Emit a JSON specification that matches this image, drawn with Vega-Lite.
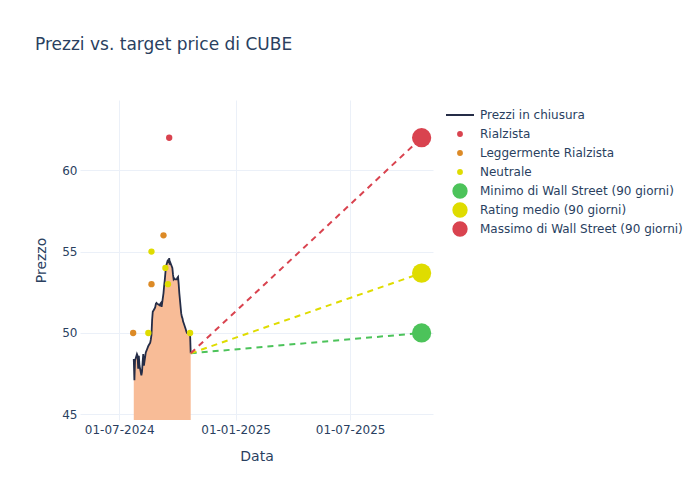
{
  "$schema": "https://vega.github.io/schema/vega-lite/v6.json",
  "width": 353,
  "height": 320,
  "autosize": {"type": "none"},
  "padding": {"left": 80, "top": 100, "right": 267, "bottom": 80},
  "background": "white",
  "config": {
    "font": "DejaVu Sans",
    "view": {"stroke": null},
    "axis": {
      "domain": false,
      "ticks": false,
      "gridColor": "#ebf0f8",
      "gridWidth": 1,
      "labelColor": "#2a3f5f",
      "labelFontSize": 12,
      "labelFont": "DejaVu Sans",
      "titleColor": "#2a3f5f",
      "titleFontSize": 14,
      "titleFont": "DejaVu Sans",
      "titleFontWeight": "normal"
    },
    "legend": {
      "labelFont": "DejaVu Sans",
      "labelFontSize": 12,
      "labelColor": "#2a3f5f",
      "symbolOpacity": 1,
      "labelLimit": 0
    }
  },
  "title": {
    "text": "Prezzi vs. target price di CUBE",
    "anchor": "start",
    "frame": "group",
    "dx": -45,
    "offset": 46,
    "fontSize": 17,
    "font": "DejaVu Sans",
    "fontWeight": "normal",
    "color": "#2a3f5f"
  },
  "datasets": {
    "prezzi": [
      {"data": "2024-07-24", "prezzo": 48.4},
      {"data": "2024-07-25", "prezzo": 47.1},
      {"data": "2024-07-26", "prezzo": 48.3},
      {"data": "2024-07-29", "prezzo": 48.7},
      {"data": "2024-07-30", "prezzo": 48.6},
      {"data": "2024-07-31", "prezzo": 47.8},
      {"data": "2024-08-01", "prezzo": 48.6},
      {"data": "2024-08-02", "prezzo": 48.0},
      {"data": "2024-08-05", "prezzo": 47.4},
      {"data": "2024-08-06", "prezzo": 47.6},
      {"data": "2024-08-07", "prezzo": 48.2},
      {"data": "2024-08-08", "prezzo": 48.7},
      {"data": "2024-08-09", "prezzo": 48.0},
      {"data": "2024-08-12", "prezzo": 48.8},
      {"data": "2024-08-13", "prezzo": 48.9},
      {"data": "2024-08-14", "prezzo": 49.0},
      {"data": "2024-08-15", "prezzo": 49.1},
      {"data": "2024-08-16", "prezzo": 49.2},
      {"data": "2024-08-19", "prezzo": 49.4},
      {"data": "2024-08-20", "prezzo": 49.6},
      {"data": "2024-08-21", "prezzo": 49.9},
      {"data": "2024-08-22", "prezzo": 50.8},
      {"data": "2024-08-23", "prezzo": 51.3},
      {"data": "2024-08-26", "prezzo": 51.5},
      {"data": "2024-08-27", "prezzo": 51.6},
      {"data": "2024-08-28", "prezzo": 51.8},
      {"data": "2024-08-29", "prezzo": 51.85},
      {"data": "2024-08-30", "prezzo": 51.8},
      {"data": "2024-09-03", "prezzo": 51.7},
      {"data": "2024-09-04", "prezzo": 51.8},
      {"data": "2024-09-05", "prezzo": 51.85},
      {"data": "2024-09-06", "prezzo": 51.6},
      {"data": "2024-09-09", "prezzo": 52.45},
      {"data": "2024-09-10", "prezzo": 52.9},
      {"data": "2024-09-11", "prezzo": 53.25},
      {"data": "2024-09-12", "prezzo": 53.7},
      {"data": "2024-09-13", "prezzo": 54.1},
      {"data": "2024-09-16", "prezzo": 54.5},
      {"data": "2024-09-17", "prezzo": 54.3},
      {"data": "2024-09-18", "prezzo": 54.6},
      {"data": "2024-09-19", "prezzo": 54.2},
      {"data": "2024-09-20", "prezzo": 54.3},
      {"data": "2024-09-23", "prezzo": 54.0},
      {"data": "2024-09-24", "prezzo": 53.6},
      {"data": "2024-09-25", "prezzo": 53.3},
      {"data": "2024-09-26", "prezzo": 53.35},
      {"data": "2024-09-27", "prezzo": 53.3},
      {"data": "2024-09-30", "prezzo": 53.3},
      {"data": "2024-10-01", "prezzo": 53.4},
      {"data": "2024-10-02", "prezzo": 53.45},
      {"data": "2024-10-03", "prezzo": 53.0},
      {"data": "2024-10-04", "prezzo": 52.45},
      {"data": "2024-10-07", "prezzo": 51.2},
      {"data": "2024-10-08", "prezzo": 51.0},
      {"data": "2024-10-09", "prezzo": 50.9},
      {"data": "2024-10-10", "prezzo": 50.7},
      {"data": "2024-10-11", "prezzo": 50.6},
      {"data": "2024-10-14", "prezzo": 50.25},
      {"data": "2024-10-15", "prezzo": 50.1},
      {"data": "2024-10-16", "prezzo": 50.0},
      {"data": "2024-10-17", "prezzo": 50.0},
      {"data": "2024-10-18", "prezzo": 50.0},
      {"data": "2024-10-21", "prezzo": 49.95},
      {"data": "2024-10-22", "prezzo": 48.75}
    ],
    "analisti": [
      {"data": "2024-09-18", "prezzo": 62, "serie": "Rialzista"},
      {"data": "2024-07-23", "prezzo": 50, "serie": "Leggermente Rialzista"},
      {"data": "2024-08-21", "prezzo": 53, "serie": "Leggermente Rialzista"},
      {"data": "2024-09-09", "prezzo": 56, "serie": "Leggermente Rialzista"},
      {"data": "2024-08-16", "prezzo": 50, "serie": "Neutrale"},
      {"data": "2024-08-21", "prezzo": 55, "serie": "Neutrale"},
      {"data": "2024-09-12", "prezzo": 54, "serie": "Neutrale"},
      {"data": "2024-09-16", "prezzo": 53, "serie": "Neutrale"},
      {"data": "2024-10-21", "prezzo": 50, "serie": "Neutrale"}
    ],
    "proiezioni": [
      {"data": "2024-10-22", "prezzo": 48.75, "serie": "Minimo di Wall Street (90 giorni)"},
      {"data": "2025-10-22", "prezzo": 50, "serie": "Minimo di Wall Street (90 giorni)"},
      {"data": "2024-10-22", "prezzo": 48.75, "serie": "Rating medio (90 giorni)"},
      {"data": "2025-10-22", "prezzo": 53.68, "serie": "Rating medio (90 giorni)"},
      {"data": "2024-10-22", "prezzo": 48.75, "serie": "Massimo di Wall Street (90 giorni)"},
      {"data": "2025-10-22", "prezzo": 62, "serie": "Massimo di Wall Street (90 giorni)"}
    ],
    "target": [
      {"data": "2025-10-22", "prezzo": 50, "serie": "Minimo di Wall Street (90 giorni)"},
      {"data": "2025-10-22", "prezzo": 53.68, "serie": "Rating medio (90 giorni)"},
      {"data": "2025-10-22", "prezzo": 62, "serie": "Massimo di Wall Street (90 giorni)"}
    ]
  },
  "encoding": {
    "x": {
      "field": "data",
      "type": "temporal",
      "title": "Data",
      "scale": {"type": "utc", "domain": ["2024-04-30", "2025-11-09"]},
      "axis": {
        "values": [
          {"year": 2024, "month": 7, "date": 1, "utc": true},
          {"year": 2025, "month": 1, "date": 1, "utc": true},
          {"year": 2025, "month": 7, "date": 1, "utc": true}
        ],
        "format": "%d-%m-%Y",
        "labelPadding": 4,
        "titlePadding": 14
      }
    },
    "y": {
      "field": "prezzo",
      "type": "quantitative",
      "title": "Prezzo",
      "scale": {"domain": [44.65, 64.32], "zero": false, "nice": false},
      "axis": {"values": [45, 50, 55, 60], "labelPadding": 3, "titlePadding": 13}
    }
  },
  "layer": [
    {
      "data": {"name": "prezzi"},
      "mark": {"type": "area", "color": "#f8bc97", "opacity": 1, "clip": true}
    },
    {
      "data": {"name": "prezzi"},
      "transform": [{"calculate": "'Prezzi in chiusura'", "as": "serie"}],
      "mark": {"type": "line", "strokeWidth": 1.8, "clip": true},
      "encoding": {
        "color": {
          "field": "serie",
          "type": "nominal",
          "scale": {
            "domain": ["Prezzi in chiusura", "Rialzista", "Leggermente Rialzista", "Neutrale", "Minimo di Wall Street (90 giorni)", "Rating medio (90 giorni)", "Massimo di Wall Street (90 giorni)"],
            "range": ["#252d47", "#d9434f", "#dc8a26", "#dfdc00", "#4cc35a", "#dfdc00", "#d9434f"]
          },
          "legend": {
            "title": null,
            "orient": "none",
            "legendX": 365,
            "legendY": 9,
            "gridAlign": "all",
            "rowPadding": 3,
            "encode": {
              "symbols": {
                "update": {
                  "x": {"value": 15},
                  "shape": {"signal": "datum.value === 'Prezzi in chiusura' ? 'stroke' : 'circle'"},
                  "size": {"signal": "datum.value === 'Prezzi in chiusura' ? 784 : (indexof(['Minimo di Wall Street (90 giorni)', 'Rating medio (90 giorni)', 'Massimo di Wall Street (90 giorni)'], datum.value) >= 0 ? 235 : 34)"},
                  "fill": {"signal": "datum.value === 'Prezzi in chiusura' ? 'transparent' : scale('color', datum.value)"},
                  "stroke": {"signal": "scale('color', datum.value)"},
                  "strokeWidth": {"signal": "datum.value === 'Prezzi in chiusura' ? 2 : 0"},
                  "opacity": {"value": 1}
                }
              },
              "labels": {
                "update": {"x": {"value": 35}}
              }
            }
          }
        }
      }
    },
    {
      "data": {"name": "proiezioni"},
      "mark": {"type": "line", "strokeWidth": 2, "strokeDash": [6, 5], "clip": true},
      "encoding": {"color": {"field": "serie", "type": "nominal"}}
    },
    {
      "data": {"name": "analisti"},
      "mark": {"type": "point", "filled": true, "opacity": 1, "size": 40, "shape": "circle"},
      "encoding": {"color": {"field": "serie", "type": "nominal"}}
    },
    {
      "data": {"name": "target"},
      "mark": {"type": "point", "filled": true, "opacity": 1, "size": 370, "shape": "circle"},
      "encoding": {"color": {"field": "serie", "type": "nominal"}}
    }
  ]
}
